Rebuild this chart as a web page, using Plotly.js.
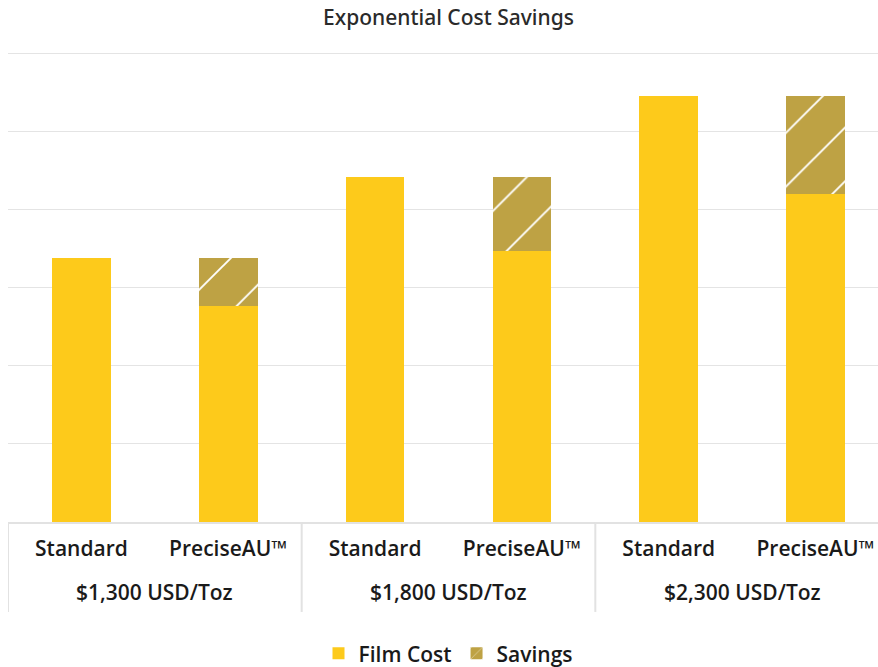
<!DOCTYPE html>
<html>
<head>
<meta charset="utf-8">
<script src="https://cdn.plot.ly/plotly-3.0.1.min.js"></script>
<style>
  html, body { margin: 0; padding: 0; overflow: hidden; background: #fff; }
  #chart { width: 889px; height: 667px; }
</style>
</head>
<body>
<div id="chart"></div>
<script>
// product per bar, and gold price group per pair of bars
var products = ['Standard', 'PreciseAU™', 'Standard', 'PreciseAU™', 'Standard', 'PreciseAU™'];
var priceGroups = ['$1,300 USD/Toz', '$1,800 USD/Toz', '$2,300 USD/Toz'];

// (gridline = 1 unit)
var filmCost = [3.38, 2.77, 4.42, 3.47, 5.45, 4.20];
var savings = [0, 0.61, 0, 0.95, 0, 1.25];

var yellow = '#FDCA1B';
var gold = '#BEA244';
var lineGrey = '#e2e2e2';

var xIdx = products.map(function (_, i) { return i; });

var traces = [
  {
    type: 'bar',
    name: 'Film Cost',
    x: xIdx,
    y: filmCost,
    marker: { color: yellow },
    hoverinfo: 'skip'
  },
  {
    type: 'bar',
    name: 'Savings',
    x: xIdx,
    y: savings,
    marker: {
      color: gold,
      pattern: { shape: '/', fgcolor: '#ffffff', bgcolor: gold, size: 38, solidity: 0.05, fillmode: 'replace' }
    },
    hoverinfo: 'skip'
  }
];

// group dividers and group labels under the axis
var shapes = [];
var annotations = [];
priceGroups.forEach(function (g, i) {
  annotations.push({
    x: i * 2 + 0.5, xref: 'x',
    y: -0.1486, yref: 'paper', yanchor: 'middle',
    text: g, showarrow: false,
    font: { size: 21, weight: 600, color: '#1a1a1a' }
  });
});
for (var k = 0; k <= priceGroups.length; k++) {
  shapes.push({
    type: 'line', xref: 'x', yref: 'paper',
    x0: k * 2 - 0.5, x1: k * 2 - 0.5, y0: 0, y1: -0.191,
    line: { color: lineGrey, width: 2 }
  });
}

var layout = {
  width: 889,
  height: 667,
  barmode: 'stack',
  bargap: 0.6,
  margin: { l: 8, r: 0, t: 51, b: 145 },
  paper_bgcolor: '#ffffff',
  plot_bgcolor: '#ffffff',
  font: { family: 'Open Sans, sans-serif', color: '#1a1a1a' },
  title: {
    text: 'Exponential Cost Savings',
    x: 0.5, xref: 'paper', y: 0.973, yanchor: 'middle',
    font: { family: 'Noto Sans, sans-serif', size: 21, weight: 500, color: '#2a2a2a' }
  },
  xaxis: {
    range: [-0.5, 5.5],
    tickvals: xIdx,
    ticktext: products,
    showline: true,
    linecolor: lineGrey,
    linewidth: 2,
    showgrid: false,
    zeroline: false,
    ticks: 'outside',
    ticklen: 7,
    tickcolor: 'rgba(0,0,0,0)',
    automargin: false,
    tickfont: { size: 21, weight: 600, color: '#1a1a1a' }
  },
  yaxis: {
    range: [0, 6.03],
    dtick: 1,
    showticklabels: false,
    gridcolor: '#e4e4e4',
    gridwidth: 1,
    zeroline: false,
    automargin: false
  },
  legend: {
    orientation: 'h',
    x: 0.5, xanchor: 'center', xref: 'paper',
    y: 0.02, yanchor: 'middle', yref: 'container',
    traceorder: 'normal',
    font: { size: 21, weight: 600, color: '#1a1a1a' }
  },
  showlegend: true,
  shapes: shapes,
  annotations: annotations
};

Plotly.newPlot('chart', traces, layout, { displayModeBar: false, staticPlot: true });
</script>
</body>
</html>
